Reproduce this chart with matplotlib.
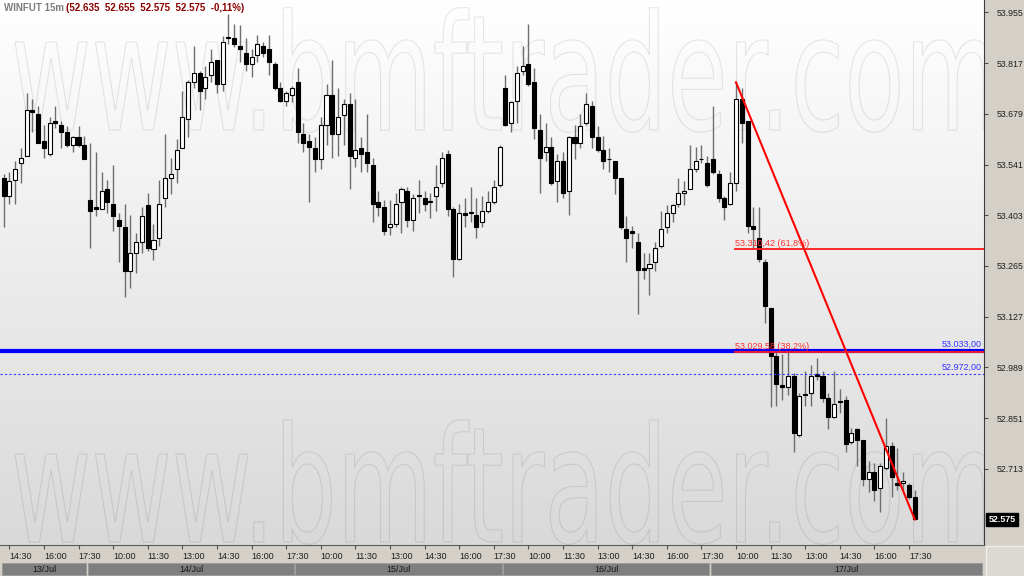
import numpy as np
import pandas as pd
import matplotlib

matplotlib.use("Agg")
import matplotlib.pyplot as plt
import matplotlib.transforms as mtransforms
from matplotlib.colors import LinearSegmentedColormap
from matplotlib.font_manager import FontProperties
from matplotlib.patches import PathPatch, Rectangle
from matplotlib.textpath import TextPath

# -----------------------------------------------------------------------------
# WINFUT 15 minute candles, 13/Jul 14:15 -> 17/Jul 17:45, with a fibo
# retracement of the last leg and two horizontal price levels.
# -----------------------------------------------------------------------------

SYMBOL = "WINFUT 15m"
CHANGE_TEXT = "-0,11%"
WATERMARK = "www.bmftrader.com"

# one session = 09:00 .. 17:45
DAYS = ["2020-07-13", "2020-07-14", "2020-07-15", "2020-07-16", "2020-07-17"]
DAY_LABELS = ["13/Jul", "14/Jul", "15/Jul", "16/Jul", "17/Jul"]
FIRST_BAR = "2020-07-13 14:15"
TIME_TICKS = ["10:00", "11:30", "13:00", "14:30", "16:00", "17:30"]

opens = [
    53505, 53455, 53500, 53545, 53565, 53690, 53680, 53605, 53570, 53660,
    53650, 53630, 53595, 53615, 53595, 53445, 53425, 53420, 53475, 53435,
    53390, 53370, 53250, 53300, 53330, 53430, 53310, 53340, 53450, 53505,
    53530, 53585, 53665, 53765, 53790, 53750, 53785, 53825, 53760, 53885,
    53885, 53865, 53845, 53815, 53840, 53865, 53855, 53815, 53750, 53715,
    53730, 53765, 53625, 53605, 53585, 53555, 53650, 53730, 53625, 53675,
    53705, 53560, 53585, 53575, 53540, 53440, 53425, 53370, 53380, 53440,
    53470, 53390, 53455, 53450, 53440, 53455, 53490, 53570, 53420, 53285,
    53410, 53410, 53405, 53385, 53415, 53440, 53485, 53750, 53655, 53715,
    53795, 53815, 53765, 53635, 53575, 53590, 53495, 53550, 53470, 53615,
    53600, 53655, 53700, 53615, 53580, 53555, 53550, 53505, 53365, 53360,
    53330, 53260, 53260, 53275, 53320, 53370, 53410, 53435, 53465, 53475,
    53530, 53555, 53545, 53555, 53515, 53450, 53435, 53490, 53720, 53660,
    53375, 53340, 53275, 53150, 53020, 52940, 52935, 52965, 52805, 52915,
    52920, 52970, 52965, 52905, 52855, 52895, 52900, 52785, 52820, 52790,
    52685, 52705, 52660, 52715, 52775, 52675, 52675, 52670, 52635,
]
highs = [
    53515, 53520, 53550, 53585, 53735, 53720, 53700, 53650, 53670, 53700,
    53660, 53645, 53620, 53645, 53620, 53600, 53575, 53520, 53500, 53540,
    53410, 53435, 53405, 53355, 53425, 53465, 53380, 53500, 53625, 53560,
    53610, 53740, 53770, 53865, 53795, 53810, 53855, 53825, 53890, 53950,
    53925, 53920, 53885, 53855, 53895, 53875, 53895, 53820, 53765, 53740,
    53755, 53805, 53655, 53625, 53615, 53670, 53760, 53825, 53750, 53720,
    53735, 53720, 53615, 53680, 53560, 53470, 53445, 53445, 53465, 53480,
    53480, 53460, 53500, 53470, 53465, 53540, 53575, 53580, 53425, 53435,
    53450, 53480, 53450, 53455, 53470, 53500, 53595, 53785, 53715, 53810,
    53865, 53925, 53805, 53680, 53655, 53615, 53570, 53575, 53620, 53650,
    53680, 53735, 53715, 53645, 53620, 53585, 53550, 53505, 53400, 53375,
    53355, 53300, 53300, 53330, 53415, 53430, 53435, 53505, 53495, 53595,
    53590, 53595, 53565, 53700, 53525, 53455, 53520, 53765, 53750, 53660,
    53425, 53425, 53285, 53150, 53030, 53025, 53030, 52975, 52920, 52980,
    52995, 53015, 52980, 52920, 52980, 52930, 52910, 52825, 52825, 52790,
    52735, 52730, 52730, 52850, 52785, 52770, 52705, 52675, 52655,
]
lows = [
    53370, 53435, 53435, 53490, 53565, 53630, 53600, 53560, 53565, 53640,
    53585, 53590, 53575, 53590, 53555, 53315, 53400, 53420, 53410, 53360,
    53275, 53180, 53205, 53245, 53300, 53305, 53280, 53320, 53425, 53460,
    53490, 53585, 53615, 53750, 53690, 53720, 53765, 53735, 53740, 53870,
    53860, 53820, 53795, 53780, 53820, 53835, 53785, 53745, 53710, 53700,
    53710, 53600, 53575, 53440, 53520, 53530, 53595, 53560, 53565, 53595,
    53475, 53535, 53520, 53520, 53385, 53400, 53350, 53350, 53370, 53355,
    53370, 53360, 53410, 53415, 53395, 53415, 53480, 53400, 53235, 53280,
    53370, 53385, 53340, 53370, 53410, 53435, 53480, 53645, 53630, 53655,
    53785, 53755, 53610, 53465, 53550, 53485, 53440, 53450, 53405, 53555,
    53585, 53650, 53585, 53575, 53530, 53520, 53460, 53365, 53275, 53315,
    53135, 53230, 53185, 53250, 53315, 53355, 53385, 53425, 53430, 53475,
    53520, 53545, 53480, 53515, 53440, 53390, 53430, 53470, 53600, 53355,
    53310, 53275, 53110, 52880, 52885, 52900, 52915, 52760, 52800, 52885,
    52885, 52955, 52895, 52820, 52850, 52865, 52760, 52780, 52720, 52665,
    52650, 52625, 52595, 52710, 52635, 52655, 52655, 52630, 52575,
]
closes = [
    53455, 53495, 53530, 53560, 53690, 53685, 53600, 53585, 53655, 53655,
    53630, 53595, 53615, 53595, 53555, 53415, 53420, 53470, 53440, 53400,
    53375, 53250, 53300, 53330, 53400, 53315, 53335, 53435, 53505, 53515,
    53580, 53670, 53765, 53790, 53740, 53780, 53820, 53760, 53875, 53885,
    53870, 53855, 53815, 53835, 53870, 53845, 53820, 53750, 53715, 53735,
    53750, 53630, 53600, 53590, 53555, 53650, 53730, 53625, 53670, 53705,
    53565, 53580, 53570, 53545, 53435, 53425, 53360, 53380, 53435, 53475,
    53390, 53450, 53455, 53435, 53440, 53480, 53560, 53420, 53285, 53410,
    53405, 53410, 53370, 53415, 53440, 53480, 53590, 53650, 53710, 53790,
    53810, 53760, 53640, 53560, 53590, 53490, 53550, 53465, 53615, 53600,
    53645, 53705, 53615, 53580, 53550, 53555, 53505, 53370, 53340, 53355,
    53255, 53255, 53270, 53315, 53365, 53410, 53430, 53465, 53470, 53530,
    53550, 53555, 53485, 53520, 53450, 53425, 53490, 53720, 53655, 53375,
    53365, 53285, 53155, 53020, 52945, 52935, 52965, 52810, 52910, 52915,
    52965, 52965, 52905, 52855, 52890, 52895, 52780, 52810, 52790, 52685,
    52705, 52655, 52720, 52775, 52690, 52670, 52680, 52635, 52575,
]

# fibo drawn from the 17/Jul 10:45 high to the last low
FIB_HIGH_BAR = 127
FIB_HIGH = 53765
FIB_LOW_BAR = 158
FIB_LOW = 52575
FIB_LEVELS = [0.618, 0.382]

BLUE_LEVEL = 53033
DOTTED_LEVEL = 52972

Y_TICKS = [53955, 53817, 53679, 53541, 53403, 53265, 53127, 52989, 52851, 52713]

# layout, in pixels of the 1024x576 image
FIG_W, FIG_H = 1024, 576
PLOT_RIGHT = 984
PLOT_BOTTOM = 545
DATE_BAND = 14
X_LIM = (-0.612, 170.0)
Y_LIM = (52505.5, 53989.0)

PANEL = "#d4d0c8"
FONT = "Liberation Sans"


def fmt_price(v, decimals=0):
    # 53955 -> "53.955", 53033 -> "53.033,00"
    s = f"{int(v):,}".replace(",", ".")
    if decimals:
        frac = f"{v - int(v):.{decimals}f}"[2:]
        s += "," + frac
    return s


def bar_times():
    stamps = []
    for day in DAYS:
        stamps.extend(pd.date_range(f"{day} 09:00", f"{day} 17:45", freq="15min"))
    stamps = pd.DatetimeIndex(stamps)
    return stamps[stamps >= pd.Timestamp(FIRST_BAR)][: len(closes)]


def draw_background(ax):
    cmap = LinearSegmentedColormap.from_list("bg", ["#ffffff", "#d9d9d9"])
    grad = np.linspace(0, 1, 256).reshape(-1, 1)
    ax.imshow(
        grad,
        extent=[X_LIM[0], X_LIM[1], Y_LIM[0], Y_LIM[1]],
        origin="upper",
        aspect="auto",
        cmap=cmap,
        zorder=0,
    )


def draw_watermark(ax, fig):
    fp = FontProperties(family="DejaVu Sans")
    tp = TextPath((0, 0), WATERMARK, size=100, prop=fp)
    x_height = TextPath((0, 0), "x", size=100, prop=fp).get_extents().height
    ext = tp.get_extents()

    left, right, xh = 15, 992, 88
    sx = (right - left) / ext.width
    sy = xh / x_height
    px_to_fig = mtransforms.Affine2D().scale(1 / FIG_W, 1 / FIG_H) + fig.transFigure

    for baseline in [130, 542]:
        tr = (
            mtransforms.Affine2D()
            .translate(-ext.x0, 0)
            .scale(sx, sy)
            .translate(left, FIG_H - baseline)
            + px_to_fig
        )
        # outline only, very faint
        ax.add_patch(
            PathPatch(tp, transform=tr, facecolor="none", edgecolor=(0, 0, 0, 0.09),
                      lw=0.8, zorder=1)
        )


def draw_candles(ax):
    x = np.arange(len(closes))
    o = np.array(opens, dtype=float)
    c = np.array(closes, dtype=float)

    ax.vlines(x, lows, highs, color="#6e6e6e", lw=1.0, zorder=2)

    bottoms = np.minimum(o, c)
    heights = np.maximum(np.abs(c - o), 2.5)
    colors = ["white" if cc > oo else "black" for oo, cc in zip(o, c)]
    ax.bar(
        x,
        heights,
        bottom=bottoms,
        width=0.7,
        color=colors,
        edgecolor="black",
        linewidth=0.8,
        zorder=3,
    )


def draw_levels(ax):
    # support level and dotted alert line
    ax.axhline(BLUE_LEVEL, color="#0000ff", lw=3.0, zorder=4)
    ax.axhline(DOTTED_LEVEL, color="#3a3aff", lw=0.8, ls=(0, (2, 2)), zorder=4)
    for level in [BLUE_LEVEL, DOTTED_LEVEL]:
        ax.text(
            X_LIM[1] - 0.4,
            level + 6,
            fmt_price(level, 2),
            color="#3434ff",
            fontsize=6.5,
            family=FONT,
            ha="right",
            va="bottom",
            zorder=6,
        )

    # trend line of the fibo
    ax.plot(
        [FIB_HIGH_BAR, FIB_LOW_BAR],
        [FIB_HIGH, FIB_LOW],
        color="#ff0000",
        lw=1.5,
        zorder=5,
    )

    for ratio in FIB_LEVELS:
        price = FIB_LOW + ratio * (FIB_HIGH - FIB_LOW)
        ax.plot([FIB_HIGH_BAR - 0.1, X_LIM[1]], [price, price], color="#ff1a1a", lw=1.3, zorder=5)
        pct = f"{ratio * 100:.1f}".replace(".", ",")
        ax.text(
            FIB_HIGH_BAR - 0.1,
            price + 4,
            f"{fmt_price(price, 2)} ({pct}%)",
            color="#ff3030",
            fontsize=6.5,
            family=FONT,
            ha="left",
            va="bottom",
            zorder=6,
        )


def style_axes(ax, times):
    ax.set_xlim(*X_LIM)
    ax.set_ylim(*Y_LIM)

    for side in ["top", "left"]:
        ax.spines[side].set_visible(False)
    ax.spines["right"].set_color("#3c3c3c")
    ax.spines["bottom"].set_color("#5a5a5a")

    ax.yaxis.tick_right()
    ax.set_yticks(Y_TICKS)
    ax.set_yticklabels([fmt_price(v) for v in Y_TICKS], family=FONT)
    ax.tick_params(axis="y", direction="out", length=3, pad=6, labelsize=6.3,
                   colors="#505050", labelcolor="#1e1e1e")

    labels = times.strftime("%H:%M")
    tick_pos = [i for i, t in enumerate(labels) if t in TIME_TICKS]
    ax.set_xticks(tick_pos)
    ax.set_xticklabels([labels[i] for i in tick_pos], family=FONT)
    ax.tick_params(axis="x", direction="out", length=3, pad=2, labelsize=6.5,
                   colors="#505050", labelcolor="#1e1e1e")
    for lab in ax.get_xticklabels():
        lab.set_horizontalalignment("left")

    # last price tag on the price scale
    tag = mtransforms.blended_transform_factory(ax.transAxes, ax.transData)
    ax.text(
        1.0045,
        closes[-1],
        fmt_price(closes[-1]),
        transform=tag,
        color="white",
        fontsize=6.5,
        weight="bold",
        family=FONT,
        ha="left",
        va="center",
        bbox=dict(boxstyle="square,pad=0.25", fc="black", ec="black"),
        zorder=7,
        clip_on=False,
    )


def draw_date_band(fig, times):
    dax = fig.add_axes([0, 0, PLOT_RIGHT / FIG_W, DATE_BAND / FIG_H])
    dax.set_xlim(*X_LIM)
    dax.set_ylim(0, 1)
    dax.axis("off")

    day_of_bar = times.strftime("%d/%b")
    for label in DAY_LABELS:
        idx = [i for i, d in enumerate(day_of_bar) if d == label]
        x0 = max(idx[0] - 0.5, X_LIM[0] + 0.3)
        x1 = X_LIM[1] - 0.3 if label == DAY_LABELS[-1] else idx[-1] + 0.5
        dax.add_patch(
            Rectangle((x0 + 0.12, 0.04), x1 - x0 - 0.24, 0.92, fc="#7f7f7f", ec="#9a9a9a", lw=0.6)
        )
        dax.text(
            (x0 + x1) / 2,
            0.48,
            label,
            ha="center",
            va="center",
            fontsize=6.5,
            family=FONT,
            color="#161616",
        )

    # corner under the price scale
    fig.patches.append(
        Rectangle(
            ((PLOT_RIGHT + 2) / FIG_W, 0),
            (FIG_W - PLOT_RIGHT - 2) / FIG_W,
            (FIG_H - PLOT_BOTTOM - 1) / FIG_H,
            transform=fig.transFigure,
            fc="#dcd9d3",
            ec="#efede9",
            lw=1,
        )
    )


def draw_header(fig):
    y = 1 - 8 / FIG_H
    fig.text(4 / FIG_W, y, SYMBOL, color="#7d7d7d", fontsize=7, weight="bold",
             family=FONT, va="center")
    ohlc = "  ".join(fmt_price(v) for v in [opens[-1], highs[-1], lows[-1], closes[-1]])
    fig.text(66 / FIG_W, y, f"({ohlc}  {CHANGE_TEXT})", color="#8b0000", fontsize=7,
             weight="bold", family=FONT, va="center")


def main():
    times = bar_times()

    fig = plt.figure(figsize=(FIG_W / 100, FIG_H / 100), dpi=100, facecolor=PANEL)
    ax = fig.add_axes(
        [0, (FIG_H - PLOT_BOTTOM) / FIG_H, PLOT_RIGHT / FIG_W, PLOT_BOTTOM / FIG_H]
    )

    draw_background(ax)
    draw_watermark(ax, fig)
    draw_candles(ax)
    draw_levels(ax)
    style_axes(ax, times)
    draw_date_band(fig, times)
    draw_header(fig)

    fig.savefig("out.png", dpi=100, facecolor=PANEL)
    plt.close(fig)


if __name__ == "__main__":
    main()
